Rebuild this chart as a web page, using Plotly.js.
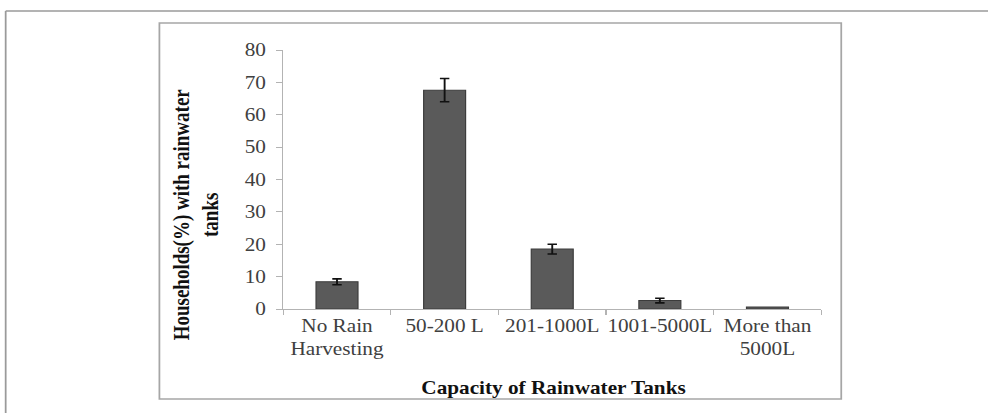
<!DOCTYPE html>
<html>
<head>
<meta charset="utf-8">
<script src="https://cdn.plot.ly/plotly-3.0.1.min.js"></script>
<style>
  html, body { margin: 0; padding: 0; background: #ffffff; overflow: hidden; }
  #wrap { width: 989px; height: 413px; overflow: hidden; }
  #chart { transform-origin: 0 0; }
</style>
</head>
<body>
<div id="wrap"><div id="chart"></div></div>
<script>
// ---- data ----
const categories = ["No Rain<br>Harvesting", "50-200 L", "201-1000L", "1001-5000L", "More than<br>5000L"];
const householdsPct = [8.4, 67.6, 18.5, 2.6, 0.6];
const errorPct = [0.9, 3.6, 1.5, 0.7, NaN];   // last bar has no visible error bar
const yTickValues = [0, 10, 20, 30, 40, 50, 60, 70, 80];
const xTitle = "Capacity of Rainwater Tanks";
const yTitle = "Households(%) with rainwater<br>tanks";

// ---- layout helpers ----
// The reference picture is stretched horizontally; render narrower and stretch with CSS.
const SX = 1.18;
const W = 989, H = 413;
const Wi = W / SX;
const plotLeft = 283, plotRight = 822, plotTop = 50, plotBottom = 309;   // page pixels
const M = { l: plotLeft / SX, r: (W - plotRight) / SX, t: plotTop, b: H - plotBottom };
const px = x => (x - plotLeft) / (plotRight - plotLeft);     // page pixel x -> paper x
const py = y => (plotBottom - y) / (plotBottom - plotTop);   // page pixel y -> paper y

const FONT = '"Liberation Serif", "Times New Roman", serif';

const trace = {
  type: 'bar',
  x: categories,
  y: householdsPct,
  marker: { color: '#5a5a5a', line: { color: '#3c3c3c', width: 1 } },
  error_y: { type: 'data', array: errorPct, visible: true, color: '#111111', thickness: 1.6, width: 4 },
  hoverinfo: 'skip'
};

const layout = {
  width: Wi, height: H,
  margin: M,
  paper_bgcolor: '#ffffff',
  plot_bgcolor: '#ffffff',
  showlegend: false,
  bargap: 0.61,
  font: { family: FONT, size: 18, color: '#404040' },
  xaxis: {
    type: 'category',
    showline: true, linecolor: '#b3b3b3', linewidth: 1,
    ticks: 'outside', ticklen: 5, tickcolor: '#b3b3b3',
    tickson: 'boundaries',
    tickangle: 0,
    showgrid: false, zeroline: false,
    tickfont: { family: FONT, size: 18, color: '#404040' },
    fixedrange: true
  },
  yaxis: {
    range: [0, 80],
    tickvals: yTickValues,
    showline: true, linecolor: '#b3b3b3', linewidth: 1,
    ticks: 'outside', ticklen: 5, tickcolor: '#b3b3b3',
    ticklabelstandoff: 5,
    showgrid: false, zeroline: false,
    tickfont: { family: FONT, size: 18, color: '#404040' },
    fixedrange: true
  },
  annotations: [
    {
      text: '<b>' + xTitle + '</b>', xref: 'paper', yref: 'paper',
      x: px(554), y: py(388), xanchor: 'center', yanchor: 'middle',
      showarrow: false, font: { family: FONT, size: 18, color: '#111111' }
    },
    {
      text: '<b>' + yTitle + '</b>', xref: 'paper', yref: 'paper',
      x: px(196), y: py(214), xanchor: 'center', yanchor: 'middle',
      textangle: -90, showarrow: false,
      font: { family: FONT, size: 19, color: '#111111' }
    }
  ],
  shapes: [
    // inner chart box
    { type: 'rect', xref: 'paper', yref: 'paper', x0: px(159), x1: px(842), y0: py(399), y1: py(23),
      line: { color: '#a6a6a6', width: 1.5 }, layer: 'below' },
    // outer frame top line
    { type: 'line', xref: 'paper', yref: 'paper', x0: px(5), x1: px(989), y0: py(11), y1: py(11),
      line: { color: '#9a9a9a', width: 1.5 } },
    // outer frame left line
    { type: 'line', xref: 'paper', yref: 'paper', x0: px(5), x1: px(5), y0: py(11), y1: py(413),
      line: { color: '#9a9a9a', width: 1.5 } }
  ]
};

document.getElementById('chart').style.transform = 'scaleX(' + SX + ')';
Plotly.newPlot('chart', [trace], layout, { displayModeBar: false, staticPlot: true });
</script>
</body>
</html>
